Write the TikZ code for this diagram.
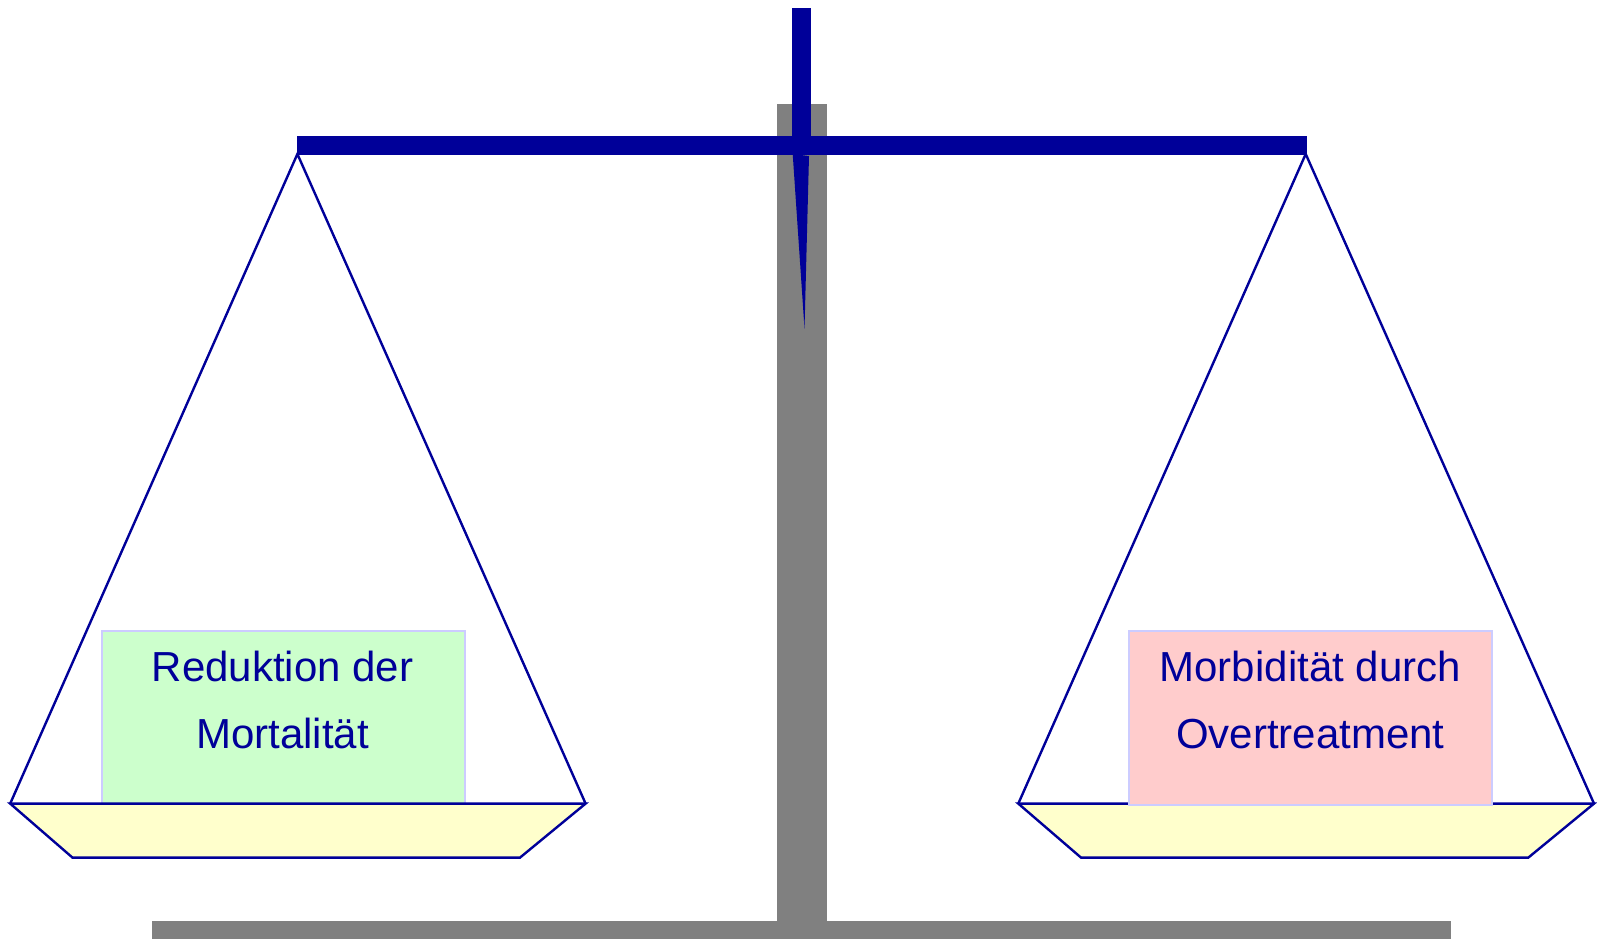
\documentclass[tikz,border=0pt]{standalone}
\usepackage{fontspec}
\setmainfont{Liberation Sans}
\definecolor{navy}{HTML}{000099}
\definecolor{postgray}{HTML}{808080}
\definecolor{panyellow}{HTML}{FFFFCC}
\definecolor{boxgreen}{HTML}{CCFFCC}
\definecolor{boxpink}{HTML}{FFCCCC}
\definecolor{boxedge}{HTML}{CCCCFF}
\begin{document}
\begin{tikzpicture}[x=1pt,y=-1pt,
  string/.style={draw=navy,line width=2.4pt},
  pan/.style={draw=navy,fill=panyellow,line width=2.4pt,line join=miter},
  weight/.style={draw=boxedge,line width=2pt,inner sep=0pt,minimum width=363pt,minimum height=174pt,anchor=north west},
  label/.style={text=navy,font=\fontsize{42pt}{50pt}\selectfont,inner sep=0pt,anchor=base},
  steel/.style={fill=postgray,draw=none},
  arm/.style={fill=navy,draw=none}]
\useasboundingbox (0,0) rectangle (1597,939);
% stand
\fill[steel] (776.7,104.3) rectangle (827.3,925);
\fill[steel] (152.4,920.5) rectangle (1450.7,939);
% pointer, beam
\fill[arm] (792.7,154) -- (809,156) -- (804.5,328.5) -- cycle;
\fill[arm] (792.3,8.3) rectangle (811,155);
\fill[arm] (296.7,136.3) rectangle (1306.7,154.8);
% left pan
\coordinate (lv) at (297.4,154);
\coordinate (lrl) at (10.2,803.6);
\coordinate (lrr) at (585.6,803.6);
\coordinate (lbl) at (72.5,857.6);
\coordinate (lbr) at (520,857.6);
\draw[string] (lrl) -- (lv) -- (lrr);
\node[weight,fill=boxgreen] (lbox) at (100.5,630) {};
\draw[pan] (lrl) -- (lrr) -- (lbr) -- (lbl) -- cycle;
\node[label] (lt1) at (282.5,681.7) {Reduktion der};
\node[label] (lt2) at (282.5,748.3) {Mortalität};
% right pan
\coordinate (rv) at (1305.7,154);
\coordinate (rrl) at (1018.3,803.6);
\coordinate (rrr) at (1594,803.6);
\coordinate (rbl) at (1081,857.6);
\coordinate (rbr) at (1528.3,857.6);
\draw[string] (rrl) -- (rv) -- (rrr);
\draw[pan] (rrl) -- (rrr) -- (rbr) -- (rbl) -- cycle;
\node[weight,fill=boxpink] (rbox) at (1128.3,630) {};
\node[label] (rt1) at (1310.2,681.7) {Morbidität durch};
\node[label] (rt2) at (1310.2,748.3) {Overtreatment};
\end{tikzpicture}
\end{document}
